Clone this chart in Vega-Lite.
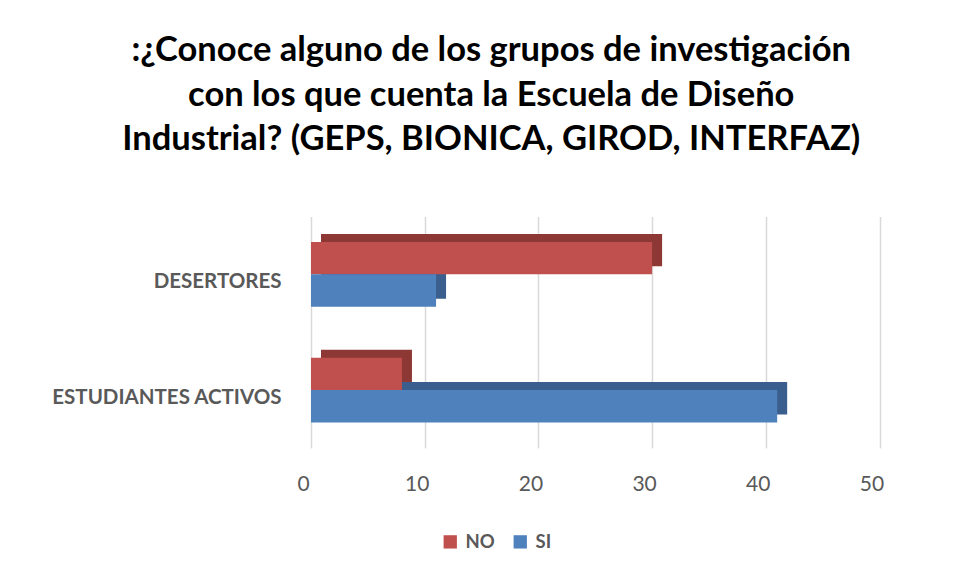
{
  "$schema": "https://vega.github.io/schema/vega-lite/v6.json",
  "autosize": "none",
  "padding": {"left": 311, "top": 216.5, "right": 79.5, "bottom": 127.1},
  "width": 568.5,
  "height": 231.4,
  "background": "white",
  "title": {
    "text": [":¿Conoce alguno de los grupos de investigación", "con los que cuenta la Escuela de Diseño", "Industrial? (GEPS, BIONICA, GIROD, INTERFAZ)"],
    "font": "Lato",
    "fontSize": 34.5,
    "fontWeight": "bold",
    "color": "#000000",
    "lineHeight": 44.5,
    "anchor": "middle",
    "dx": -104,
    "offset": 59
  },
  "data": {
    "values": [
      {"grupo": "DESERTORES", "serie": "NO", "valor": 30},
      {"grupo": "DESERTORES", "serie": "SI", "valor": 11},
      {"grupo": "ESTUDIANTES ACTIVOS", "serie": "NO", "valor": 8},
      {"grupo": "ESTUDIANTES ACTIVOS", "serie": "SI", "valor": 41}
    ]
  },
  "encoding": {
    "y": {
      "field": "grupo",
      "type": "nominal",
      "sort": ["DESERTORES", "ESTUDIANTES ACTIVOS"],
      "scale": {"paddingInner": 0.44, "paddingOuter": 0.22},
      "axis": {
        "title": null,
        "domain": false,
        "ticks": false,
        "labelPadding": 30,
        "labelOffset": 8,
        "labelLimit": 400,
        "labelFont": "Lato",
        "labelFontSize": 20.5,
        "labelFontWeight": "bold",
        "labelColor": "#595959"
      }
    },
    "x": {
      "field": "valor",
      "type": "quantitative",
      "scale": {"domain": [0, 50], "nice": false},
      "axis": {
        "title": null,
        "values": [0, 10, 20, 30, 40, 50],
        "domain": false,
        "ticks": false,
        "grid": true,
        "gridColor": "#D9D9D9",
        "gridWidth": 1.5,
        "labelFlush": false,
        "labelBaseline": "middle",
        "labelPadding": 37,
        "labelOffset": -8,
        "labelFont": "Lato",
        "labelFontSize": 21,
        "labelColor": "#595959"
      }
    }
  },
  "layer": [
    {
      "mark": {"type": "bar", "xOffset": 10},
      "encoding": {
        "yOffset": {
          "field": "serie",
          "type": "nominal",
          "sort": ["NO", "SI"],
          "scale": {"range": [-8, 56.8], "paddingInner": 0, "paddingOuter": 0}
        },
        "color": {
          "field": "serie",
          "type": "nominal",
          "scale": {"domain": ["NO", "SI"], "range": ["#8E3836", "#3A5F8E"]},
          "legend": null
        }
      }
    },
    {
      "mark": {"type": "bar"},
      "encoding": {
        "yOffset": {
          "field": "serie",
          "type": "nominal",
          "sort": ["NO", "SI"],
          "scale": {"paddingInner": 0, "paddingOuter": 0}
        },
        "color": {
          "field": "serie",
          "type": "nominal",
          "scale": {"domain": ["NO", "SI"], "range": ["#C0504D", "#4F81BD"]},
          "legend": {
            "title": null,
            "orient": "none",
            "direction": "horizontal",
            "legendX": 130,
            "legendY": 316,
            "symbolType": "square",
            "symbolSize": 177,
            "symbolStrokeWidth": 0,
            "labelFont": "Lato",
            "labelFontSize": 18.5,
            "labelFontWeight": "bold",
            "labelColor": "#595959",
            "labelOffset": 6,
            "columnPadding": 16
          }
        }
      }
    }
  ],
  "resolve": {"scale": {"color": "independent", "yOffset": "independent"}},
  "config": {"view": {"stroke": null}}
}
